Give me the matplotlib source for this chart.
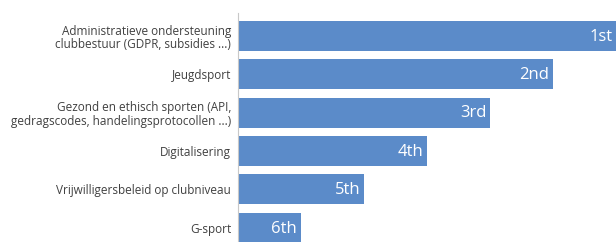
import matplotlib.pyplot as plt

# categories top to bottom, and rank score (longest bar = 1st)
categories = [
    "Administratieve ondersteuning\nclubbestuur (GDPR, subsidies ...)",
    "Jeugdsport",
    "Gezond en ethisch sporten (API,\ngedragscodes, handelingsprotocollen ...)",
    "Digitalisering",
    "Vrijwilligersbeleid op clubniveau",
    "G-sport",
]
scores = [6, 5, 4, 3, 2, 1]
rank_labels = ["1st", "2nd", "3rd", "4th", "5th", "6th"]

plt.rcParams['font.family'] = ['Open Sans', 'DejaVu Sans']

fig = plt.figure(figsize=(6.16, 2.42), dpi=100)
ax = fig.add_axes([238 / 616, 0, 378 / 616, 229 / 242])

y = list(range(len(categories)))
bars = ax.barh(y, scores, height=0.78, color="#5b8bc9")

for yi, s, lab in zip(y, scores, rank_labels):
    ax.text(s - 0.06, yi + 0.02, lab, ha="right", va="center", color="white", fontsize=12)

ax.set_xlim(0, 6)
ax.set_ylim(5.37, -0.6)
ax.set_yticks(y)
ax.set_yticklabels(categories, fontsize=8.5, color="#404040", linespacing=1.05)
ax.set_xticks([])
ax.tick_params(axis="y", length=0, pad=5)
for side in ["top", "right", "bottom"]:
    ax.spines[side].set_visible(False)
ax.spines["left"].set_color("#c8c8c8")
ax.spines["left"].set_linewidth(0.8)

fig.savefig("out.png", dpi=100)
